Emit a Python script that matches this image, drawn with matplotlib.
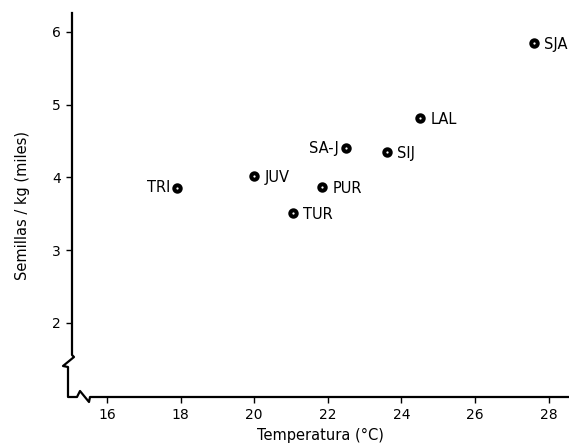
import matplotlib
matplotlib.use("Agg")
import matplotlib.pyplot as plt
from matplotlib.lines import Line2D

# Data
sites = ["TRI", "JUV", "TUR", "PUR", "SA-J", "SIJ", "LAL", "SJA"]
temperature = [17.9, 20.0, 21.05, 21.85, 22.5, 23.6, 24.5, 27.6]
seeds_per_kg = [3.86, 4.02, 3.51, 3.87, 4.40, 4.35, 4.82, 5.85]
label_side = ["left", "right", "right", "right", "left", "right", "right", "right"]

x_ticks = [16, 18, 20, 22, 24, 26, 28]
y_ticks = [2, 3, 4, 5, 6]

W, H = 569, 447
fig = plt.figure(figsize=(W / 100, H / 100), dpi=100)
ax = fig.add_axes([72 / W, 1 - 397 / H, (W - 72) / W, (397 - 13) / H])

ax.plot(temperature, seeds_per_kg, "o", ms=4.6, mfc="white", mec="black",
        mew=2.9, ls="none", clip_on=False, zorder=5)

for name, x, y, side in zip(sites, temperature, seeds_per_kg, label_side):
    if side == "left":
        off, ha = (-5, 0), "right"
    else:
        off, ha = (7.5, -1), "left"
    ax.annotate(name, (x, y), xytext=off, textcoords="offset points",
                ha=ha, va="center", fontsize=10.5, annotation_clip=False)

ax.set_xlim(15.05, 28.55)
ax.set_ylim(0.98, 6.26)
ax.set_xticks(x_ticks)
ax.set_yticks(y_ticks)
ax.tick_params(direction="out", length=4, width=1, labelsize=10, pad=4)
for s in ax.spines.values():
    s.set_visible(False)
ax.patch.set_alpha(0)

ax.set_xlabel("Temperatura (°C)", fontsize=10.5, labelpad=4)
ax.set_ylabel("Semillas / kg (miles)", fontsize=10.5, labelpad=16)

# broken axes drawn in pixel coordinates
def px(points):
    return [p[0] / W for p in points], [1 - p[1] / H for p in points]

y_axis = [(72, 13), (72, 355), (74, 357), (63, 366), (68, 367), (68, 397),
          (77, 397), (80, 391), (89, 402), (90, 397), (W, 397)]
xs, ys = px(y_axis)
fig.add_artist(Line2D(xs, ys, color="black", lw=1.6))

fig.savefig("out.png", dpi=100)
